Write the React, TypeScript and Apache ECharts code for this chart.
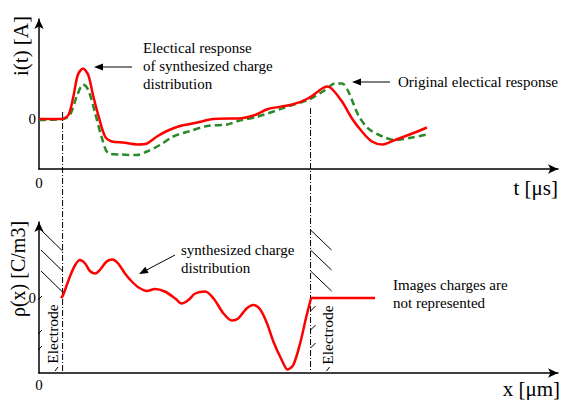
import React, { useEffect, useRef } from "react";
import * as echarts from "echarts";

const FONT = "Liberation Serif";

// top panel: current i(t) vs t
const synthResponse: [number, number][] = [
  [0, 0], [4.3, 0], [5.6, 0.8], [6.5, 4.2], [7.4, 8.8], [8.4, 10.1], [9.4, 8.8], [10.3, 4.8],
  [11.3, 0.8], [12.6, -3.5], [13.9, -4.5], [16.0, -4.7], [18.7, -5.1], [20.6, -4.9], [22.5, -3.5],
  [24.4, -2.4], [26.9, -1.4], [30.2, -0.7], [33.2, 0], [36.5, 0.1], [38.0, 0.1], [41.2, 0.8],
  [43.7, 2.0], [48.3, 2.9], [51.3, 4.1], [54.0, 6.1], [55.0, 6.5], [55.9, 6.0], [57.8, 3.5],
  [59.7, 0.1], [61.6, -2.5], [63.5, -4.5], [65.5, -5.1], [67.9, -4.2], [71.2, -2.9], [74.0, -1.7],
];
const originalResponse: [number, number][] = [
  [0, -0.2], [4.6, 0], [5.9, 0.8], [7.3, 4.8], [8.4, 6.9], [9.4, 5.8], [10.7, 1.2], [12.0, -3.8],
  [13.2, -6.8], [15.5, -7.1], [18.7, -7.2], [20.6, -6.5], [23.1, -5.2], [25.6, -3.5], [28.8, -2.4],
  [32.1, -1.4], [35.9, -1.1], [38.0, -0.4], [41.8, 0.5], [48.3, 2.8], [51.3, 3.8], [54.6, 5.8],
  [56.5, 7.1], [57.8, 7.1], [59.0, 5.5], [60.9, 0.8], [62.8, -1.9], [65.5, -3.5], [67.9, -4.2],
  [71.2, -3.7], [74.0, -3.1],
];

// bottom panel: charge density rho(x) vs x
const chargeDistribution: [number, number][] = [
  [4.2, 0], [4.6, 0.6], [5.9, 4.3], [6.9, 6.6], [7.8, 7.6], [8.8, 6.9], [9.7, 5.4], [10.7, 4.9],
  [11.6, 5.6], [12.9, 7.3], [14.0, 7.7], [15.1, 6.9], [16.4, 4.9], [17.7, 3.3], [19.0, 2.1],
  [20.6, 1.4], [22.1, 1.8], [24.0, 1.3], [26.0, -0.1], [27.2, -1.1], [28.5, -0.4], [29.8, 0.9],
  [31.7, 1.3], [33.3, -0.1], [35.2, -3.1], [36.8, -4.5], [38.0, -4.1], [39.6, -2.1], [40.9, -1.4],
  [42.2, -2.3], [43.5, -5.1], [44.7, -8.7], [46.3, -12.4], [47.4, -14.3], [48.5, -13.4],
  [49.8, -9.1], [51.0, -3.7], [51.9, 0],
];
const imageRegion: [number, number][] = [[51.9, 0], [64.1, 0]];

// electrode positions (x) and where their dash-dot marker starts in the top panel (y)
const electrodes = [4.5, 51.8];
const electrodeTopStart = [1.4, 2.2];

const axisLineStyle = { color: "#000", width: 1.5 };

function zeroOnly(v: number) {
  return v === 0 ? "0" : "";
}

function arrow(x1: number, y1: number, x2: number, y2: number) {
  const ang = Math.atan2(y2 - y1, x2 - x1);
  const L = 9;
  const W = 3.5;
  const bx = x2 - L * Math.cos(ang);
  const by = y2 - L * Math.sin(ang);
  const px = -Math.sin(ang) * W;
  const py = Math.cos(ang) * W;
  return [
    { type: "line", shape: { x1, y1, x2: bx, y2: by }, style: { stroke: "#000", lineWidth: 1 }, silent: true },
    {
      type: "polygon",
      shape: { points: [[x2, y2], [bx + px, by + py], [bx - px, by - py]] },
      style: { fill: "#000" },
      silent: true,
    },
  ];
}

function txt(text: string, x: number, y: number, size: number, align = "left", rotation = 0) {
  return {
    type: "text",
    x,
    y,
    rotation,
    silent: true,
    style: {
      text,
      fill: "#000",
      fontSize: size,
      fontFamily: FONT,
      align,
      verticalAlign: "middle",
    },
  };
}

function seg(x1: number, y1: number, x2: number, y2: number, extra: any = {}) {
  return {
    type: "line",
    silent: true,
    shape: { x1, y1, x2, y2 },
    style: { stroke: "#000", lineWidth: 1, ...extra },
  };
}

export default function App() {
  const ref = useRef<HTMLDivElement>(null);

  useEffect(() => {
    if (!ref.current) return;
    const chart = echarts.init(ref.current, null, { renderer: "svg" });

    const xAxisBase = {
      type: "value",
      min: 0,
      max: 99,
      splitLine: { show: false },
      axisTick: { show: false },
      axisLine: { onZero: false, symbol: ["none", "arrow"], symbolSize: [7, 10], lineStyle: axisLineStyle },
      axisLabel: {
        formatter: zeroOnly,
        color: "#000",
        fontFamily: FONT,
        fontSize: 15,
        showMinLabel: true,
      },
    };
    const yAxisBase = {
      type: "value",
      splitLine: { show: false },
      axisTick: { show: false },
      axisLine: { onZero: false, symbol: ["none", "arrow"], symbolSize: [7, 10], lineStyle: axisLineStyle },
      axisLabel: { formatter: zeroOnly, color: "#000", fontFamily: FONT, fontSize: 15, margin: 3 },
    };

    chart.setOption({
      animation: false,
      backgroundColor: "#fff",
      textStyle: { fontFamily: FONT },
      grid: [
        { left: 39, right: 8, top: 19, height: 150 },
        { left: 39, right: 8, top: 222, height: 151 },
      ],
      xAxis: [
        { ...xAxisBase, gridIndex: 0, axisLabel: { ...xAxisBase.axisLabel, margin: 6 } },
        { ...xAxisBase, gridIndex: 1, axisLabel: { ...xAxisBase.axisLabel, margin: 4 } },
      ],
      yAxis: [
        { ...yAxisBase, gridIndex: 0, min: -10, max: 20, interval: 10 },
        { ...yAxisBase, gridIndex: 1, min: -15, max: 15.2, interval: 5 },
      ],
      series: [
        {
          type: "line",
          name: "Original electical response",
          xAxisIndex: 0,
          yAxisIndex: 0,
          data: originalResponse,
          smooth: 0.3,
          showSymbol: false,
          lineStyle: { color: "#2a8a2a", width: 2.5, type: [7, 4] },
          z: 2,
        },
        {
          type: "line",
          name: "Electical response of synthesized charge distribution",
          xAxisIndex: 0,
          yAxisIndex: 0,
          data: synthResponse,
          smooth: 0.3,
          showSymbol: false,
          lineStyle: { color: "#ff0000", width: 2.5 },
          z: 3,
        },
        {
          type: "line",
          name: "synthesized charge distribution",
          xAxisIndex: 1,
          yAxisIndex: 1,
          data: chargeDistribution,
          smooth: 0.3,
          showSymbol: false,
          lineStyle: { color: "#ff0000", width: 2.5 },
          z: 3,
        },
        {
          type: "line",
          name: "image charges",
          xAxisIndex: 1,
          yAxisIndex: 1,
          data: imageRegion,
          showSymbol: false,
          lineStyle: { color: "#ff0000", width: 2.5 },
          z: 3,
        },
      ],
    });

    const top = (x: number, y: number) => chart.convertToPixel({ seriesIndex: 0 }, [x, y]) as number[];
    const bot = (x: number, y: number) => chart.convertToPixel({ seriesIndex: 2 }, [x, y]) as number[];

    const g: any[] = [];
    // electrode dash-dot lines
    electrodes.forEach((e, i) => {
      const a = top(e, electrodeTopStart[i]);
      const b = bot(e, -15);
      g.push(seg(a[0], a[1], b[0], b[1], { lineDash: [6, 2, 1, 2] }));
    });

    // hatches
    const zero = bot(0, 0);
    const axisX = zero[0];
    const e1 = bot(electrodes[0], 0)[0];
    const e2 = bot(electrodes[1], 0)[0];
    const y0 = zero[1];
    [-68, -48, -27].forEach((dy) => {
      g.push(seg(axisX + 2, y0 + dy, e1, y0 + dy + 21));
      g.push(seg(e2, y0 + dy, e2 + 21, y0 + dy + 20));
    });
    // short hatch remnants below zero
    [0, 34, 50].forEach((dy) => g.push(seg(axisX - 1, y0 + dy + 2, axisX + 3, y0 + dy - 2)));
    g.push(seg(axisX + 16, y0 + 73, axisX + 19, y0 + 69));
    [11, 30, 48].forEach((dy) => g.push(seg(e2, y0 + dy + 2, e2 + 5, y0 + dy - 3)));
    g.push(seg(e2 + 16, y0 + 73, e2 + 19, y0 + 69));

    // annotations
    g.push(txt("Electical response", 143, 48, 15));
    g.push(txt("of synthesized charge", 143, 66, 15));
    g.push(txt("distribution", 143, 83.5, 15));
    g.push(...arrow(132, 67, 94, 67));

    g.push(txt("Original electical response", 398, 82, 15));
    g.push(...arrow(390, 82, 352, 82));

    g.push(txt("synthesized charge", 181, 250, 15));
    g.push(txt("distribution", 181, 268, 15));
    g.push(...arrow(175, 255, 139, 274));

    g.push(txt("Images charges are", 393, 285, 15));
    g.push(txt("not represented", 393, 303, 15));

    g.push(txt("Electrode", 52, 334, 15.5, "center", Math.PI / 2));
    g.push(txt("Electrode", 327, 335, 15.5, "center", Math.PI / 2));

    // axis titles
    g.push(txt("i(t) [A]", 21, 46, 21, "center", Math.PI / 2));
    g.push(txt("ρ(x) [C/m3]", 18, 269, 20, "center", Math.PI / 2));
    g.push(txt("t [μs]", 558, 188, 21, "right"));
    g.push(txt("x [μm]", 560, 389, 21, "right"));

    chart.setOption({ graphic: { elements: g } });

    return () => chart.dispose();
  }, []);

  return (
    <div
      ref={ref}
      style={{ position: "absolute", left: 0, top: 0, width: 566, height: 400, background: "#fff" }}
    />
  );
}
